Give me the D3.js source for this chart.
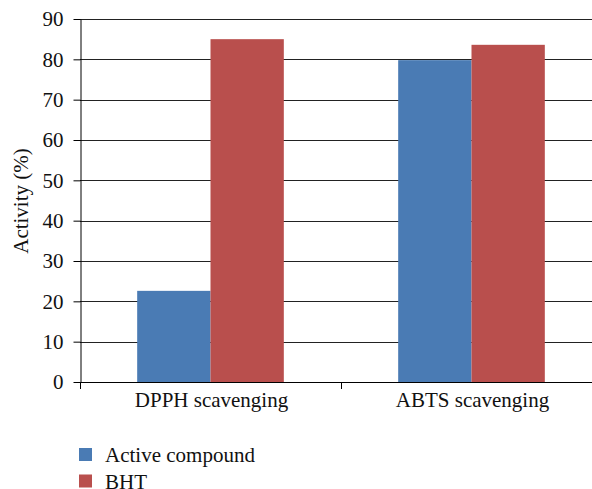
<!DOCTYPE html>
<html><head><meta charset="utf-8">
<script src="https://cdn.jsdelivr.net/npm/d3@7"></script>
<style>body{margin:0;background:#fff}svg{display:block}</style>
</head><body><svg id="c" width="592" height="489"></svg>
<script>
const categories = ["DPPH scavenging", "ABTS scavenging"];
const seriesNames = ["Active compound", "BHT"];
const activeValues = [22.6, 79.8];
const bhtValues = [85.0, 83.6];
const yTicks = [0, 10, 20, 30, 40, 50, 60, 70, 80, 90];
const colors = ["#4a7bb4", "#b94f4d"];

const svg = d3.select("#c");
const fontName = '"Liberation Serif"';
const pLeft = 80, pRight = 602, pTop = 19, pBottom = 382;

const x = d3.scaleBand().domain(categories).range([pLeft, pRight]);
const xs = d3.scaleBand().domain(seriesNames).range([0, x.bandwidth()]).paddingInner(0).paddingOuter(0.78);
const y = d3.scaleLinear().domain([0, 90]).range([pBottom, pTop]);

function applyFont(sel) {
  return sel.style("font-family", fontName).style("font-size", "21px").attr("fill", "#111");
}

// gridlines
svg.append("g").selectAll("line").data(yTicks.filter(d => d > 0)).join("line")
  .attr("x1", pLeft).attr("x2", pRight)
  .attr("y1", d => Math.round(y(d)) + 0.5).attr("y2", d => Math.round(y(d)) + 0.5)
  .attr("stroke", "#222").attr("stroke-width", 1);

// bars
const data = categories.map((c, i) => ({cat: c, vals: [activeValues[i], bhtValues[i]]}));
const g = svg.append("g");
data.forEach(d => {
  d.vals.forEach((v, j) => {
    g.append("rect")
      .attr("x", x(d.cat) + xs(seriesNames[j]))
      .attr("width", xs.bandwidth())
      .attr("y", y(v))
      .attr("height", y(0) - y(v))
      .attr("fill", colors[j]);
  });
});

// y axis
const yAxis = svg.append("g").attr("transform", `translate(${pLeft + 0.5},0)`)
  .call(d3.axisLeft(y).tickValues(yTicks).tickSize(7).tickPadding(10).tickSizeOuter(0));
yAxis.attr("font-family", null).attr("font-size", null);
yAxis.select(".domain").attr("stroke", "#000");
yAxis.selectAll(".tick line").attr("stroke", "#000");
applyFont(yAxis.selectAll("text"));
svg.append("line").attr("x1", pLeft + 0.5).attr("x2", pLeft + 0.5).attr("y1", pBottom).attr("y2", pBottom + 7).attr("stroke", "#000");

// x axis
svg.append("line").attr("x1", pLeft).attr("x2", pRight)
  .attr("y1", Math.round(pBottom) + 0.5).attr("y2", Math.round(pBottom) + 0.5).attr("stroke", "#000");
const bounds = [pLeft, ...categories.map(c => x(c) + x.bandwidth())];
svg.append("g").selectAll("line").data(bounds).join("line")
  .attr("x1", d => Math.round(d) + 0.5).attr("x2", d => Math.round(d) + 0.5)
  .attr("y1", pBottom).attr("y2", pBottom + 7).attr("stroke", "#000");
applyFont(svg.append("g").selectAll("text").data(categories).join("text")
  .attr("x", d => x(d) + x.bandwidth() / 2 + 1).attr("y", 407)
  .attr("text-anchor", "middle")
  .text(d => d));

// y title
applyFont(svg.append("text").attr("transform", "translate(28,201) rotate(-90)")
  .attr("text-anchor", "middle")
  .text("Activity (%)"));

// legend
const leg = svg.append("g");
seriesNames.forEach((s, i) => {
  const yy = 448 + i * 26.5;
  leg.append("rect").attr("x", 79).attr("y", yy).attr("width", 13).attr("height", 13).attr("fill", colors[i]);
  applyFont(leg.append("text").attr("x", 105).attr("y", yy + 14).text(s));
});

// make sure the serif face is loaded, then re-apply
if (document.fonts && document.fonts.load) {
  document.fonts.load('21px "Liberation Serif"').then(() => {
    svg.selectAll("text").style("font-family", null);
    void document.body.offsetHeight;
    svg.selectAll("text").style("font-family", fontName);
  }).catch(() => {});
}
</script></body></html>
